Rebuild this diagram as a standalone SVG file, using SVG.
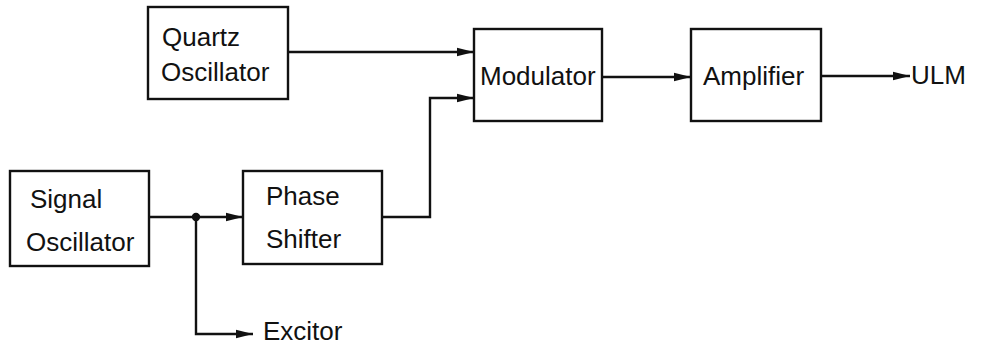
<svg xmlns="http://www.w3.org/2000/svg" width="1003" height="345" viewBox="0 0 1003 345">
<style>
.box{fill:#fff;stroke:#111;stroke-width:2.4}
.lbl{font-family:"Liberation Sans",Arial,sans-serif;font-size:26px;fill:#111}
.wire{fill:none;stroke:#111;stroke-width:2.4}
</style>
<defs>
<marker id="arr" markerUnits="userSpaceOnUse" markerWidth="18" markerHeight="12" refX="17" refY="6" orient="auto">
<path d="M0,1.8 L17,6 L0,10.2 Z" fill="#111"/>
</marker>
</defs>
<rect width="1003" height="345" fill="#fff"/>
<g id="quartz">
<rect class="box" x="148" y="7" width="140" height="92"/>
<text class="lbl" x="162" y="46">Quartz</text>
<text class="lbl" x="161" y="81">Oscillator</text>
</g>
<g id="modulator">
<rect class="box" x="474" y="29" width="128" height="92"/>
<text class="lbl" x="480" y="85">Modulator</text>
</g>
<g id="amplifier">
<rect class="box" x="691" y="29" width="130" height="92"/>
<text class="lbl" x="703" y="85">Amplifier</text>
</g>
<g id="signal">
<rect class="box" x="10" y="171" width="139" height="95"/>
<text class="lbl" x="30" y="208">Signal</text>
<text class="lbl" x="26" y="251">Oscillator</text>
</g>
<g id="phase">
<rect class="box" x="243" y="171" width="139" height="93"/>
<text class="lbl" x="266" y="205">Phase</text>
<text class="lbl" x="266" y="248">Shifter</text>
</g>
<g id="ulm"><text class="lbl" x="911" y="84">ULM</text></g>
<g id="excitor"><text class="lbl" x="263" y="340">Excitor</text></g>
<g id="connectors">
<path class="wire" d="M288,52 H474" marker-end="url(#arr)"/>
<path class="wire" d="M382,217 H430 V98 H474" marker-end="url(#arr)"/>
<path class="wire" d="M602,77 H691" marker-end="url(#arr)"/>
<path class="wire" d="M821,76 H910" marker-end="url(#arr)"/>
<path class="wire" d="M149,217 H243" marker-end="url(#arr)"/>
<path class="wire" d="M196,217 V334 H253" marker-end="url(#arr)"/>
<circle cx="196" cy="217" r="4.2" fill="#111"/>
</g>
</svg>
